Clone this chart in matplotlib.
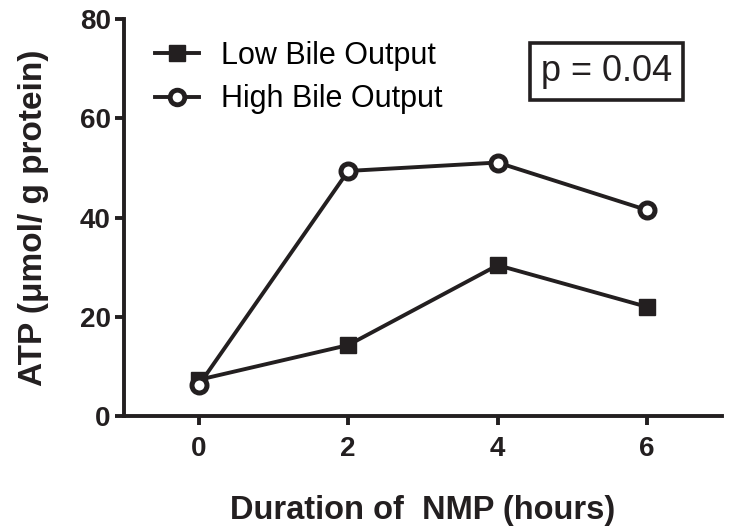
import matplotlib.pyplot as plt
from matplotlib.lines import Line2D

plt.rcParams['font.family'] = ['Liberation Sans', 'DejaVu Sans']

# ATP values
hours = [0, 2, 4, 6]
low_bile = [7.3, 14.3, 30.4, 22.0]
high_bile = [6.2, 49.4, 51.1, 41.5]
x_ticks = [0, 2, 4, 6]
y_ticks = [0, 20, 40, 60, 80]

fig = plt.figure(figsize=(7.31, 5.32), dpi=100)
ax = fig.add_axes([0.1696, 0.218, 0.818, 0.746])

col = '#231f20'
lw = 2.8
ax.plot(hours, low_bile, color=col, lw=lw, marker='s', ms=11.5,
        mfc=col, mec=col, zorder=3)
ax.plot(hours, high_bile, color=col, lw=lw, marker='o', ms=10.8,
        mfc='white', mec=col, mew=3.6, zorder=4)

ax.set_xlim(-1, 7)
ax.set_ylim(0, 80)
ax.set_xticks(x_ticks)
ax.set_yticks(y_ticks)
for s in ['top', 'right']:
    ax.spines[s].set_visible(False)
for s in ['left', 'bottom']:
    ax.spines[s].set_linewidth(lw)
    ax.spines[s].set_color(col)
ax.tick_params(width=lw, length=6.5, color=col, labelsize=20)
ax.tick_params(axis='x', pad=8)
ax.tick_params(axis='y', pad=3)
for lab in ax.get_xticklabels() + ax.get_yticklabels():
    lab.set_fontweight('bold')
    lab.set_color(col)

ax.set_xlabel('Duration of  NMP (hours)', fontsize=23.5, fontweight='bold',
              color=col, labelpad=24)
ax.set_ylabel('ATP (μmol/ g protein)', fontsize=24, fontweight='bold',
              color=col, labelpad=22)

handles = [
    Line2D([], [], color=col, lw=lw, marker='s', ms=11, mfc=col, mec=col),
    Line2D([], [], color=col, lw=lw, marker='o', ms=10.5, mfc='white',
           mec=col, mew=3.5),
]
ax.legend(handles, ['Low Bile Output', 'High Bile Output'], loc='upper left',
          bbox_to_anchor=(0.006, 1.015), frameon=False, fontsize=22,
          handlelength=1.45, handletextpad=0.72, labelspacing=0.45)

fig.text(0.830, 0.866, 'p = 0.04', fontsize=26, color=col, ha='center',
         va='center',
         bbox=dict(boxstyle='square,pad=0.3', fc='white', ec=col, lw=2.6))

fig.savefig('out.png', dpi=100)
